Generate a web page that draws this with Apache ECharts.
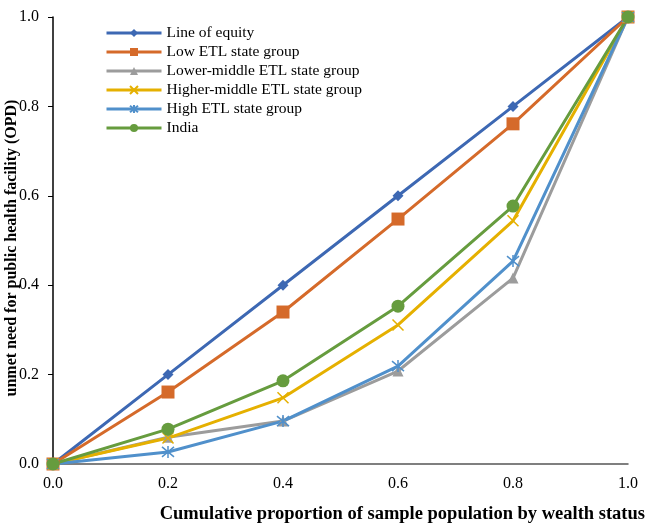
<!DOCTYPE html>
<html><head><meta charset="utf-8">
<script src="https://cdn.jsdelivr.net/npm/echarts@6/dist/echarts.min.js"></script>
<style>html,body{margin:0;padding:0;background:#fff}#c{width:647px;height:525px}</style>
</head><body><div id="c"></div>
<script>
const xValues = [0.0, 0.2, 0.4, 0.6, 0.8, 1.0];
const seriesNames = ["Line of equity","Low ETL state group","Lower-middle ETL state group","Higher-middle ETL state group","High ETL state group","India"];
const equity = [0.0, 0.2, 0.4, 0.6, 0.8, 1.0];
const lowETL = [0.0, 0.161, 0.340, 0.548, 0.761, 1.0];
const lowerMiddleETL = [0.0, 0.060, 0.096, 0.208, 0.416, 1.0];
const higherMiddleETL = [0.0, 0.058, 0.148, 0.311, 0.544, 1.0];
const highETL = [0.0, 0.027, 0.096, 0.219, 0.454, 1.0];
const india = [0.0, 0.078, 0.186, 0.353, 0.577, 1.0];
const tickLabels = ["0.0","0.2","0.4","0.6","0.8","1.0"];

const colors = ["#3d68b3","#d56a2a","#9c9c9c","#e5b000","#5090cb","#669c3e"];
const FONT = "Liberation Serif";
const xMark = 'path://M0,0L10,10M10,0L0,10';
const star = 'path://M0,0L10,10M10,0L0,10M5,-1L5,11';
const symbols = ['diamond','rect','triangle',xMark,star,'circle'];
const sizes = [11,13,11,11,12,13];
const data = [equity, lowETL, lowerMiddleETL, higherMiddleETL, highETL, india];

const series = data.map((arr, i) => ({
  name: seriesNames[i],
  type: 'line',
  data: arr.map((v, j) => [xValues[j], v]),
  symbol: symbols[i],
  symbolSize: sizes[i],
  showAllSymbol: true,
  lineStyle: {color: colors[i], width: 3},
  itemStyle: {color: colors[i], borderColor: colors[i], borderWidth: (i===3||i===4) ? 1.5 : 0},
  emphasis: {disabled: true},
  animation: false
}));

const chart = echarts.init(document.getElementById('c'));
chart.setOption({
  animation: false,
  color: colors,
  grid: {left: 53, right: 19, top: 17, bottom: 61},
  legend: {
    orient: 'vertical', left: 100, top: 20,
    itemWidth: 55, itemHeight: 10, itemGap: 3,
    lineStyle: {width: 3},
    textStyle: {fontFamily: FONT, fontSize: 15.5, lineHeight: 16, color: '#000'},
    data: seriesNames
  },
  xAxis: {
    type: 'value', min: 0, max: 1, interval: 0.2,
    axisLine: {show: true, lineStyle: {color: '#555', width: 1.5}},
    axisTick: {show: false},
    splitLine: {show: false},
    axisLabel: {fontFamily: FONT, fontSize: 16, color: '#000', margin: 12,
      formatter: v => tickLabels[Math.round(v*5)]}
  },
  yAxis: {
    type: 'value', min: 0, max: 1, interval: 0.2,
    axisLine: {show: true, lineStyle: {color: '#000', width: 1.5}},
    axisTick: {show: true, inside: false, length: 5, lineStyle: {color: '#000'}},
    splitLine: {show: false},
    axisLabel: {fontFamily: FONT, fontSize: 16, color: '#000', margin: 14,
      formatter: v => tickLabels[Math.round(v*5)]}
  },
  graphic: [
    {type: 'text', x: 645, y: 514,
      style: {text: 'Cumulative proportion of sample population by wealth status', fontFamily: FONT,
        fontSize: 18.5, fontWeight: 'bold', fill: '#000', textAlign: 'right', textVerticalAlign: 'middle'}},
    {type: 'text', x: 12, y: 248, rotation: Math.PI/2,
      style: {text: 'unmet need for public health facility (OPD)', fontFamily: FONT,
        fontSize: 16, fontWeight: 'bold', fill: '#000', textAlign: 'center', textVerticalAlign: 'middle'}}
  ],
  series: series
});
</script></body></html>
